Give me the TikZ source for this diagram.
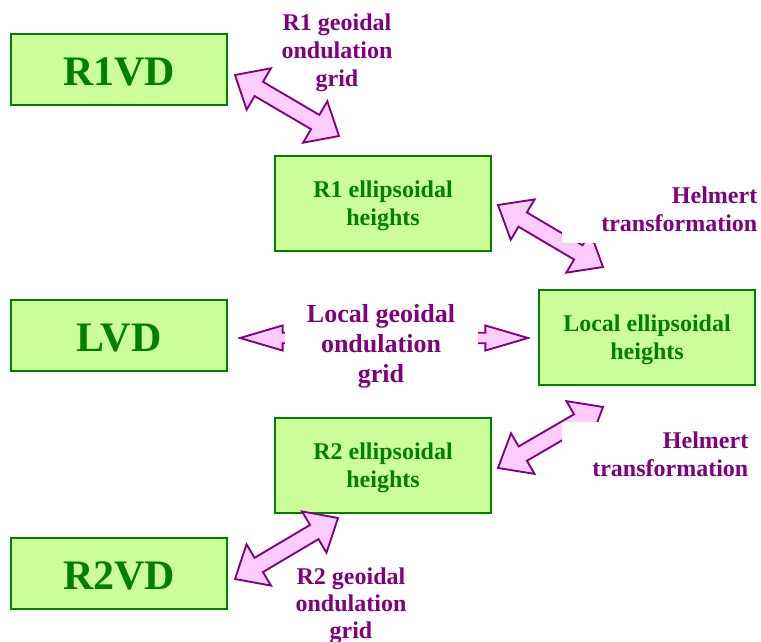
\documentclass[tikz,border=0pt]{standalone}
\usepackage{fontspec}
\setmainfont{Liberation Serif}
\usetikzlibrary{calc}
\definecolor{vpurple}{HTML}{800080}
\definecolor{vpink}{HTML}{FFCCFF}
\definecolor{vgreen}{HTML}{008000}
\definecolor{vlgreen}{HTML}{CCFF99}
\tikzset{
  x=0.75pt, y=-0.75pt,
  box/.style={draw=vgreen, fill=vlgreen, line width=1.5pt, inner sep=0pt,
    minimum width=162pt, text=vgreen, font=\bfseries},
  vdbox/.style={box, minimum height=53.25pt, text height=24.6pt, text depth=0pt,
    font=\fontsize{31.5}{36}\bfseries\selectfont},
  ellbox/.style={box, minimum height=71.25pt},
  elltext/.style={text=vgreen, inner sep=0pt, align=center, font=\fontsize{18}{21}\bfseries\selectfont},
  lbl/.style={text=vpurple, font=\fontsize{18}{21}\bfseries\selectfont, inner sep=0pt},
  barrow/.style={draw=vpurple, fill=vpink, line width=1.4pt, line join=miter},
}
% double block arrow: tip A, tip B, head length, head half-width, shaft half-width, prefix
\newcommand\blockdbl[6]{%
  \coordinate (#6q1) at ($(#1)!#3!(#2)$);
  \coordinate (#6q2) at ($(#2)!#3!(#1)$);
  \draw[barrow] (#1) -- ($(#6q1)!#4!90:(#2)$) -- ($(#6q1)!#5!90:(#2)$)
    -- ($(#6q2)!#5!-90:(#1)$) -- ($(#6q2)!#4!-90:(#1)$) -- (#2)
    -- ($(#6q2)!#4!90:(#1)$) -- ($(#6q2)!#5!90:(#1)$)
    -- ($(#6q1)!#5!-90:(#2)$) -- ($(#6q1)!#4!-90:(#2)$) -- cycle;}
\begin{document}
\begin{tikzpicture}
\useasboundingbox (0,0) rectangle (761,642);
% boxes
\node[vdbox] (r1vd) at (119,69.5) {R1VD};
\node[ellbox] (r1e) at (383,203.5) {};
\node[elltext] (r1et) at ([yshift=-1.5pt]r1e.center) {R1 ellipsoidal\\heights};
\node[vdbox] (lvd) at (119,335.5) {LVD};
\node[ellbox] (loce) at (647,337.5) {};
\node[elltext] (locet) at ([yshift=-1.5pt]loce.center) {Local ellipsoidal\\heights};
\node[ellbox] (r2e) at (383,465) {};
\node[elltext] (r2et) at ([yshift=-2pt]r2e.center) {R2 ellipsoidal\\heights};
\node[vdbox] (r2vd) at (119,573) {R2VD};
% arrow tips
\coordinate (a1s) at (235,75);  \coordinate (a1e) at (339,136);
\coordinate (a2s) at (498,205); \coordinate (a2e) at (603,267);
\coordinate (a3s) at (240,338); \coordinate (a3e) at (528,338);
\coordinate (a4s) at (498,468); \coordinate (a4e) at (603,407);
\coordinate (a5s) at (235,579); \coordinate (a5e) at (338,518);
\blockdbl{a1s}{a1e}{20.7pt}{18pt}{6.2pt}{aa}
\blockdbl{a2s}{a2e}{21.5pt}{17.6pt}{6.2pt}{ab}
\blockdbl{a3s}{a3e}{32pt}{9.4pt}{3.9pt}{ac}
\blockdbl{a4s}{a4e}{21.5pt}{17.6pt}{6.2pt}{ad}
\blockdbl{a5s}{a5e}{20.7pt}{18pt}{6.2pt}{ae}
% labels
\node[lbl, align=center] (g1) at (337,52.5) {R1 geoidal\\ondulation\\grid};
\node[lbl, align=center, fill=white, minimum width=144.75pt, minimum height=70pt,
  font=\fontsize{19.5}{22.5}\bfseries\selectfont] (gl) at (381,346) {Local geoidal\\ondulation\\grid};
\node[lbl, align=center, font=\fontsize{18}{20.25}\bfseries\selectfont] (g2) at (351,606) {R2 geoidal\\ondulation\\grid};
\node[lbl, fill=white, anchor=south west, text width=146.25pt, align=right, inner ysep=8.5pt, inner xsep=0pt] (h1) at (562,243) {Helmert\\transformation};
\node[lbl, fill=white, anchor=north west, text width=139.5pt, align=right, inner ysep=7.5pt, inner xsep=0pt] (h2) at (562,422) {Helmert\\transformation};
\end{tikzpicture}
\end{document}
